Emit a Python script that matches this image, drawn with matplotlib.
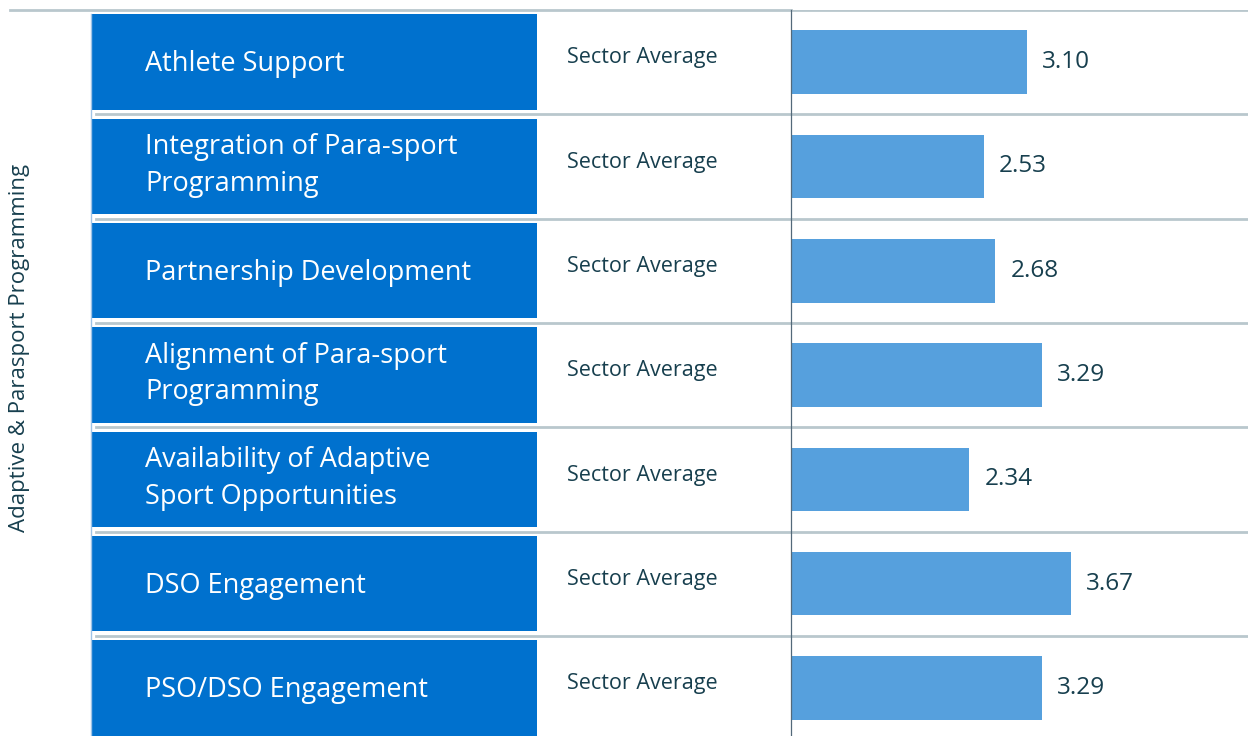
import numpy as np
import matplotlib.pyplot as plt
from matplotlib.patches import Rectangle

plt.rcParams['font.family'] = ['Open Sans', 'DejaVu Sans']

# data
categories = [
    "Athlete Support",
    "Integration of Para-sport\nProgramming",
    "Partnership Development",
    "Alignment of Para-sport\nProgramming",
    "Availability of Adaptive\nSport Opportunities",
    "DSO Engagement",
    "PSO/DSO Engagement",
]
sector_label = "Sector Average"
scores = [3.10, 2.53, 2.68, 3.29, 2.34, 3.67, 3.29]
group_title = "Adaptive & Parasport Programming"

BOX_BLUE = '#0071ce'
BAR_BLUE = '#56a0dd'
DARK = '#173f4e'
SEP = '#b9c7cd'

W, H = 1248, 736
fig = plt.figure(figsize=(W / 100, H / 100), dpi=100)

top_px = 10
row_px = 104.3
n_rows_visible = (H - top_px) / row_px
ylim = (-0.5 + n_rows_visible, -0.5)
top_frac = 1 - top_px / H
split_px = 791

ax_lab = fig.add_axes([0, 0, split_px / W, top_frac])
ax_bar = fig.add_axes([split_px / W, 0, 1 - split_px / W, top_frac], sharey=ax_lab)

y = np.arange(len(categories))

# left side: label boxes
ax_lab.set_xlim(0, split_px)
ax_lab.set_ylim(*ylim)
ax_lab.axis('off')
gap = 4.5 / row_px
for i, name in enumerate(categories):
    y0 = i - 0.5 + (gap if i > 0 else 4 / row_px)
    y1 = i + 0.5 - gap
    if i == len(categories) - 1:
        y1 = ylim[0]
    ax_lab.add_patch(Rectangle((91, y0), 537 - 91, y1 - y0, color=BOX_BLUE, lw=0))
    dy = 0.02 if '\n' not in name else -0.01
    ax_lab.text(145, i + dy, name, color='white', fontsize=19.5, va='center', ha='left',
                linespacing=1.4)
    ax_lab.text(567, i - 0.04, sector_label, color=DARK, fontsize=15.5, va='center', ha='left')
# light edge on the left of the box column
ax_lab.plot([91, 91], [ylim[0], -0.5 + 4 / row_px], color='#9fc3e6', lw=1)

# separator lines
ax_lab.plot([10, split_px], [-0.5, -0.5], color=SEP, lw=2, clip_on=False)
for i in range(1, len(categories)):
    ax_lab.plot([96, split_px], [i - 0.5, i - 0.5], color=SEP, lw=2)

# right side: bars
bars = ax_bar.barh(y, scores, height=0.61, color=BAR_BLUE)
ax_bar.set_xlim(0, 6)
ax_bar.bar_label(bars, labels=[f"{v:.2f}" for v in scores], padding=11,
                 color=DARK, fontsize=17.5)
for s in ['top', 'right', 'bottom']:
    ax_bar.spines[s].set_visible(False)
ax_bar.spines['left'].set_color('#53697a')
ax_bar.spines['left'].set_linewidth(0.9)
ax_bar.set_xticks([])
ax_bar.tick_params(left=False, labelleft=False)
for i in range(len(categories)):
    ax_bar.axhline(i - 0.5, color=SEP, lw=2, zorder=0)

fig.text(20 / W, 1 - 348 / H, group_title, rotation=90, color=DARK, fontsize=16,
         ha='center', va='center')

fig.savefig('out.png', dpi=100, facecolor='white')
